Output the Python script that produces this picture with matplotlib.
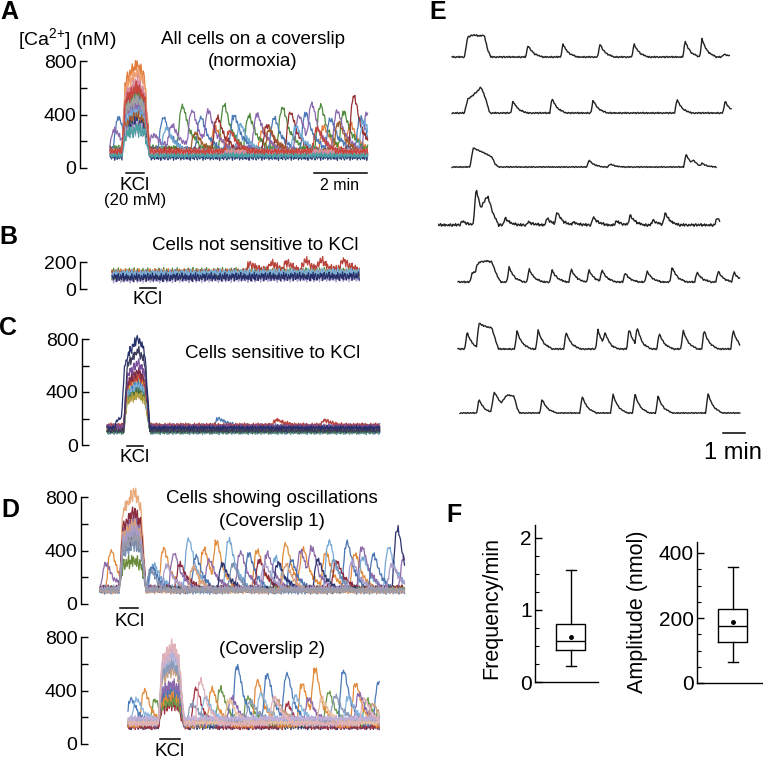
import numpy as np
import matplotlib
matplotlib.use("Agg")
import matplotlib.pyplot as plt
from matplotlib.lines import Line2D
from matplotlib.ticker import MultipleLocator

plt.rcParams['font.family'] = ['Liberation Sans', 'DejaVu Sans']
plt.rcParams['mathtext.fontset'] = 'custom'
plt.rcParams['mathtext.rm'] = 'Liberation Sans'

W, H = 763, 760
PX_PER_MIN = 26.5      # panels A-D
E_PX_PER_MIN = 22.0    # panel E

# hand-read baseline wiggle (relative units), reused for every trace
WIGGLE = [0.3, -0.6, 0.8, -0.2, -0.9, 0.5, 0.1, -0.4, 0.9, -0.7, 0.2, 0.6, -0.3,
          -0.8, 0.4, 0.0, -0.5, 0.7, -0.1, 0.5, -0.9, 0.3, 0.8, -0.6, -0.2, 0.6,
          -0.4, 0.1, 0.9, -0.8, 0.2, -0.3, 0.7, -0.7, 0.4, -0.1, -0.5]

# ---------------- A: all cells (normoxia) ----------------
A_colors = ['#e07b39', '#4d8a3c', '#4a78b5', '#8a68ad', '#962f2f', '#6ea6d4', '#a05a2c',
            '#f0a070', '#2e3b78', '#b3a7cf', '#a0a0a0', '#d88aa0', '#4aa0a0', '#c8453e']
A_base = [130, 150, 140, 150, 135, 130, 125, 120, 80, 105, 110, 115, 95, 125]
A_kcl = [780, 560, 500, 460, 620, 420, 380, 720, 340, 300, 520, 650, 290, 600]
A_peaks = [
    [(3.95, 300), (5.75, 280), (8.05, 310), (9.05, 330)],
    [(2.71, 465), (4.28, 475), (5.22, 395), (6.48, 455), (7.92, 470), (8.8, 420)],
    [(0.3, 380), (1.99, 380), (3.40, 380), (4.66, 395), (6.17, 375), (7.36, 410), (8.30, 370), (9.43, 380)],
    [(0.15, 290), (1.62, 250), (2.33, 320), (3.08, 430), (3.71, 405), (5.53, 405), (7.11, 395),
     (7.61, 430), (8.55, 430), (9.69, 420)],
    [(4.03, 380), (5.91, 320), (6.79, 420), (9.18, 540)],
    [(2.1, 300), (4.9, 330), (7.0, 310), (9.55, 350)],
    [(3.2, 260), (6.0, 290), (8.6, 340)],
    [], [], [], [], [], [],
    [(4.5, 280), (7.8, 300)],
]

# ---------------- B: not sensitive to KCl ----------------
B_colors = ['#4d8a3c', '#e07b39', '#b8413a', '#4a78b5', '#8a68ad', '#aaa0cc', '#9a9a50', '#7ab0d8', '#27306b']
B_base_start = [125, 120, 105, 100, 90, 75, 95, 110, 85]
B_base_end = [130, 115, 135, 110, 100, 85, 120, 125, 95]
B_peaks = [[], [], [(5.2, 170), (6.0, 175), (6.6, 165), (7.3, 185), (7.9, 175), (8.7, 180)],
           [], [], [], [], [], []]

# ---------------- C: sensitive to KCl ----------------
C_colors = ['#4a4a70', '#5a9aa0', '#4a6a3a', '#b5a040', '#7ab0d8', '#4a78b5', '#e8a040',
            '#b8413a', '#7a2a4a', '#7a4f9a', '#3a3a5a', '#26306a']
C_base = [100, 95, 105, 120, 125, 145, 135, 150, 130, 140, 110, 130]
C_kcl = [450, 430, 400, 380, 470, 500, 520, 530, 560, 620, 720, 810]
C_peaks = [[], [], [], [], [], [(4.2, 200)], [], [(6.4, 190), (8.2, 185)], [], [], [],
           [(0.45, 200), (0.72, 620)]]

# ---------------- D: oscillating cells, coverslip 1 ----------------
D1_colors = ['#e8a878', '#e08a3a', '#74a7d4', '#8c6aa8', '#4a74b0', '#8a2a3a', '#6a8a3a',
             '#2e3470', '#7a8fb0', '#d9a07a', '#a99cc9', '#9a9aa8']
D1_base = [110, 110, 120, 120, 100, 120, 110, 110, 95, 100, 115, 105]
D1_kcl = [840, 560, 600, 640, 520, 690, 330, 480, 450, 600, 560, 500]
D1_peaks = [
    [],
    [(0.4, 400), (2.38, 416), (3.9, 416), (4.4, 404), (5.91, 404), (6.98, 453), (7.66, 400), (8.5, 390), (9.6, 380)],
    [(2.0, 300), (3.32, 490), (4.84, 490), (6.6, 350), (8.62, 478), (9.9, 350), (10.87, 428)],
    [(0.2, 305), (2.77, 380), (4.1, 330), (5.28, 390), (6.29, 380), (7.55, 400), (7.99, 350), (9.87, 428), (11.45, 350)],
    [(1.95, 280), (3.6, 360), (5.6, 380), (7.2, 330), (9.3, 466), (10.3, 370)],
    [(3.0, 300), (6.0, 330), (8.9, 320)],
    [],
    [(4.6, 300), (6.7, 310), (8.2, 330), (11.2, 565)],
    [(1.89, 255), (5.0, 300), (8.8, 330)],
    [(3.5, 280), (7.0, 300)],
    [(2.5, 290), (6.2, 300), (9.5, 320), (11.0, 300)],
    [],
]

# ---------------- D: coverslip 2 ----------------
D2_colors = ['#303870', '#a03040', '#6a9a4a', '#e08a3a', '#4a7ab8', '#8a6aaa', '#88b4dc',
             '#c8a080', '#8a9ab8', '#e8c0a0', '#c0b0d8', '#e0b0b8']
D2_base = [130, 130, 150, 140, 150, 160, 170, 170, 180, 160, 190, 150]
D2_kcl = [350, 300, 330, 380, 420, 450, 650, 560, 600, 700, 680, 740]
D2_peaks = [
    [],
    [(2.55, 420), (6.0, 300)],
    [(1.0, 330), (3.47, 416), (4.5, 350), (7.55, 390), (9.0, 330)],
    [(0.6, 404), (3.15, 416), (4.87, 478), (6.55, 453), (7.06, 500), (8.57, 453)],
    [(0.1, 340), (4.1, 590), (5.23, 527), (5.98, 527), (8.11, 552), (9.43, 465)],
    [(3.9, 350), (6.8, 340), (8.7, 380)],
    [(0.3, 340), (2.9, 350), (5.0, 380), (6.3, 360), (8.3, 350)],
    [(5.6, 330), (9.2, 300)],
    [(2.4, 300), (4.6, 320), (7.8, 360)],
    [(3.8, 330), (7.3, 340)],
    [],
    [(2.72, 478), (5.5, 350), (8.9, 340)],
]

# ---------------- E: single-cell traces (amplitudes in px of the original) ----------------
E_start = [0.64, 0.64, 0.64, 0.0, 0.91, 0.91, 1.0]
E_end = [13.27, 13.36, 12.68, 12.82, 13.73, 13.73, 13.73]
E_noise = [0.8, 0.8, 0.6, 1.5, 0.9, 0.8, 0.6]
E_kcl = [
    [(1.2, 0), (1.35, 20), (1.6, 22), (1.9, 21), (2.1, 22), (2.25, 8), (2.4, 0)],
    [(1.2, 0), (1.35, 14), (1.5, 16), (1.7, 20), (1.85, 23), (1.95, 26), (2.05, 21), (2.2, 12), (2.35, 0)],
    [(1.45, 0), (1.6, 19), (1.9, 16), (2.2, 13), (2.45, 10), (2.6, 3), (2.75, 0)],
    [(1.6, 0), (1.73, 36), (1.95, 17), (2.15, 26), (2.27, 28), (2.5, 12), (2.75, 0)],
    [(1.45, 0), (1.55, 9), (1.7, 10), (1.77, 17), (1.91, 20), (2.2, 21), (2.45, 20), (2.65, 8), (2.85, 0)],
    [(1.75, 0), (1.86, 25), (2.1, 23), (2.45, 21), (2.6, 10), (2.75, 0)],
    [(2.4, 0), (2.55, 21), (2.86, 10), (3.14, 18), (3.45, 17), (3.6, 5), (3.7, 0)],
]
E_spikes = [
    [(4.09, 12), (5.68, 13), (7.36, 13), (8.91, 13), (11.23, 16), (12.0, 18), (13.0, 3)],
    [(3.41, 12), (5.18, 15), (7.05, 13), (10.86, 14), (13.05, 12)],
    [(6.86, 7), (7.82, 3), (11.27, 13), (11.6, 4), (12.0, 3)],
    [(1.09, 4), (3.05, 7), (4.1, 3), (4.95, 7), (5.41, 13), (6.14, 3), (7.05, 8), (8.1, 4),
     (8.73, 10), (9.77, 5), (10.32, 12), (12.68, 7)],
    [(3.23, 15), (4.14, 13), (5.18, 12), (6.05, 13), (6.86, 12), (7.45, 12), (8.5, 9), (9.5, 11),
     (10.64, 15), (11.77, 10), (12.73, 11), (13.45, 10)],
    [(1.32, 17), (3.59, 18), (4.55, 19), (5.82, 17), (7.27, 19), (7.59, 12), (8.68, 20), (9.05, 18),
     (10.05, 16), (11.14, 19), (12.09, 19), (13.41, 19)],
    [(1.86, 14), (4.73, 14), (6.55, 17), (7.95, 19), (8.95, 19), (10.0, 17), (12.27, 20)],
]

# ---------------- F: box plots (whislo, q1, median, q3, whishi) ----------------
FREQ_STATS = [0.22, 0.44, 0.57, 0.80, 1.55]
FREQ_MEAN = 0.62
AMP_STATS = [65, 125, 176, 228, 357]
AMP_MEAN = 187

# spike shapes (time offset in min, relative height)
SPIKE_T = [-0.18, -0.05, 0.05, 0.3, 0.75]
SPIKE_S = [0.0, 0.9, 1.0, 0.4, 0.0]
E_SPIKE_T = [-0.1, 0.0, 0.12, 0.3, 0.65]
E_SPIKE_S = [0.0, 1.0, 0.6, 0.25, 0.0]

fig = plt.figure(figsize=(W / 100, H / 100), dpi=100)


def fx(x):
    return x / W


def fy(y):
    return 1 - y / H


def px_axes(left, top, right, bottom):
    return fig.add_axes([fx(left), fy(bottom), (right - left) / W, (bottom - top) / H])


def px_text(x, y, s, **kw):
    kw.setdefault('ha', 'center')
    kw.setdefault('va', 'center')
    kw.setdefault('fontsize', 13.5)
    fig.text(fx(x), fy(y), s, **kw)


def px_hline(x0, x1, y, lw=1.1):
    fig.add_artist(Line2D([fx(x0), fx(x1)], [fy(y), fy(y)], transform=fig.transFigure,
                          color='black', lw=lw))


def wiggle(n, k):
    idx = (np.arange(n) + 11 * k) % len(WIGGLE)
    return np.array(WIGGLE)[idx]


def trace_panel(spine_x, start_x, end_x, y0, ytop, ymax, traces, kcl_on, kcl_off, noise,
                yticks, minor=None):
    ax = px_axes(spine_x, ytop, end_x + 4, y0)
    t_end = (end_x - start_x) / PX_PER_MIN
    ax.set_xlim(-(start_x - spine_x) / PX_PER_MIN, (end_x + 4 - start_x) / PX_PER_MIN)
    ax.set_ylim(0, ymax)
    t = np.arange(0, t_end, 0.03)
    mid = kcl_on + 0.6 * (kcl_off - kcl_on)
    for k, (color, b0, b1, kcl, peaks) in enumerate(traces):
        base = np.interp(t, [0, t_end], [b0, b1])
        env = np.interp(t, [kcl_on - 0.05, kcl_on + 0.08, mid, kcl_off - 0.08, kcl_off + 0.12],
                        [0, 0.8, 1, 0.85, 0])
        resp = (kcl - base) * env
        spikes = np.zeros_like(t)
        for tp, h in peaks:
            spikes = spikes + (h - b0) * np.interp(t - tp, SPIKE_T, SPIKE_S)
        y = base + noise * wiggle(len(t), k) * (1 + 1.5 * env) + np.maximum(resp, spikes)
        ax.plot(t, y, color=color, lw=0.9, clip_on=False)
    for s in ['top', 'right', 'bottom']:
        ax.spines[s].set_visible(False)
    ax.spines['left'].set_linewidth(1.0)
    ax.set_xticks([])
    ax.set_yticks(yticks)
    if minor:
        ax.yaxis.set_minor_locator(MultipleLocator(minor))
    ax.tick_params(axis='y', which='both', direction='in', length=5, width=1.0,
                   labelsize=14, pad=2.5)
    ax.patch.set_visible(False)
    return ax


# ---- A ----
trace_panel(80, 110, 368, 168, 61, 800,
            [(c, b, b, kc, p) for c, b, kc, p in zip(A_colors, A_base, A_kcl, A_peaks)],
            0.5, 1.38, 25, [0, 400, 800], 200)
px_text(9, 12, 'A', fontsize=18, fontweight='bold')
px_text(18, 40, '[Ca$^{2{+}}$] (nM)', ha='left', fontsize=14)
px_text(253, 40, 'All cells on a coverslip')
px_text(253, 61, '(normoxia)')
px_hline(126, 144, 173)
px_text(135, 185, 'KCl')
px_text(135, 201, '(20 mM)', fontsize=12)
px_hline(314, 367, 173)
px_text(340, 186, '2 min', fontsize=11.5)

# ---- B ----
trace_panel(80, 112, 360, 289, 262, 200,
            [(c, b0, b1, b0, p) for c, b0, b1, p in zip(B_colors, B_base_start, B_base_end, B_peaks)],
            -5, -4, 35, [0, 200])
px_text(8, 237, 'B', fontsize=18, fontweight='bold')
px_text(255, 245, 'Cells not sensitive to KCl')
px_hline(140, 156, 288)
px_text(148, 300, 'KCl')

# ---- C ----
trace_panel(82, 107, 380, 445, 339, 800,
            [(c, b, b, kc, p) for c, b, kc, p in zip(C_colors, C_base, C_kcl, C_peaks)],
            0.68, 1.5, 18, [0, 400, 800], 200)
px_text(8, 328, 'C', fontsize=18, fontweight='bold')
px_text(273, 353, 'Cells sensitive to KCl')
px_hline(127, 143, 446)
px_text(135, 458, 'KCl')

# ---- D ----
trace_panel(81, 100, 405, 604, 497, 800,
            [(c, b, b, kc, p) for c, b, kc, p in zip(D1_colors, D1_base, D1_kcl, D1_peaks)],
            0.78, 1.62, 25, [0, 400, 800], 200)
trace_panel(81, 128, 380, 744, 637, 800,
            [(c, b, b, kc, p) for c, b, kc, p in zip(D2_colors, D2_base, D2_kcl, D2_peaks)],
            1.2, 2.0, 25, [0, 400, 800], 200)
px_text(10, 510, 'D', fontsize=18, fontweight='bold')
px_text(272, 498, 'Cells showing oscillations')
px_text(272, 522, '(Coverslip 1)')
px_hline(120, 138, 608)
px_text(130, 622, 'KCl')
px_text(272, 650, '(Coverslip 2)')
px_hline(160, 180, 739)
px_text(170, 752, 'KCl')

# ---- E ----
E_rows = [57, 113, 167, 225, 282, 349, 413]
E_left = 438
axE = px_axes(E_left, 0, 750, 440)
axE.set_xlim(0, (750 - E_left) / E_PX_PER_MIN)
axE.set_ylim(440, 0)
axE.axis('off')
for k in range(len(E_rows)):
    t = np.arange(E_start[k], E_end[k], 0.04)
    kt, ka = zip(*E_kcl[k])
    amp = E_noise[k] * wiggle(len(t), 3 * k) + np.interp(t, kt, ka, left=0, right=0)
    for tp, h in E_spikes[k]:
        amp = amp + h * np.interp(t - tp, E_SPIKE_T, E_SPIKE_S)
    axE.plot(t, E_rows[k] - amp, color='#222222', lw=1.0)
px_text(438, 12, 'E', fontsize=18, fontweight='bold')
px_hline(723, 745, 433)
px_text(733, 453, '1 min', fontsize=17)

# ---- F ----
px_text(454, 515, 'F', fontsize=18, fontweight='bold')


def box_panel(left, top, right, bottom, ymax, stats, mean, yticks, minor, center_px, width_px):
    ax = px_axes(left, top, right, bottom)
    ax.set_xlim(0, 1)
    ax.set_ylim(0, ymax)
    span = right - left
    st = [dict(whislo=stats[0], q1=stats[1], med=stats[2], q3=stats[3], whishi=stats[4],
               mean=mean, fliers=[])]
    lp = dict(color='black', lw=1.0)
    ax.bxp(st, positions=[(center_px - left) / span], widths=[width_px / span],
           capwidths=[10 / span], showmeans=True, showfliers=False,
           boxprops=lp, medianprops=lp, whiskerprops=lp, capprops=lp,
           meanprops=dict(marker='o', markersize=2.5, markerfacecolor='black',
                          markeredgecolor='black'))
    for s in ['top', 'right']:
        ax.spines[s].set_visible(False)
    ax.spines['left'].set_linewidth(1.0)
    ax.spines['bottom'].set_linewidth(1.0)
    ax.set_xlim(0, 1)
    ax.set_xticks([])
    ax.set_yticks(yticks)
    ax.yaxis.set_minor_locator(MultipleLocator(minor))
    ax.tick_params(axis='y', which='major', direction='in', length=5, width=1.0,
                   labelsize=15, pad=2.5)
    ax.tick_params(axis='y', which='minor', direction='in', length=3, width=0.8)
    ax.patch.set_visible(False)
    return ax


box_panel(535, 525, 598, 682, 157 / 72.15, FREQ_STATS, FREQ_MEAN, [0, 1, 2], 0.25, 570.5, 29)
px_text(492, 608, 'Frequency/min', rotation=90, fontsize=15.5)
box_panel(697, 542, 762, 683, 141 / 0.325, AMP_STATS, AMP_MEAN, [0, 200, 400], 50, 732.5, 29)
px_text(637, 612, 'Amplitude (nmol)', rotation=90, fontsize=15.5)

fig.savefig('out.png', dpi=100)
